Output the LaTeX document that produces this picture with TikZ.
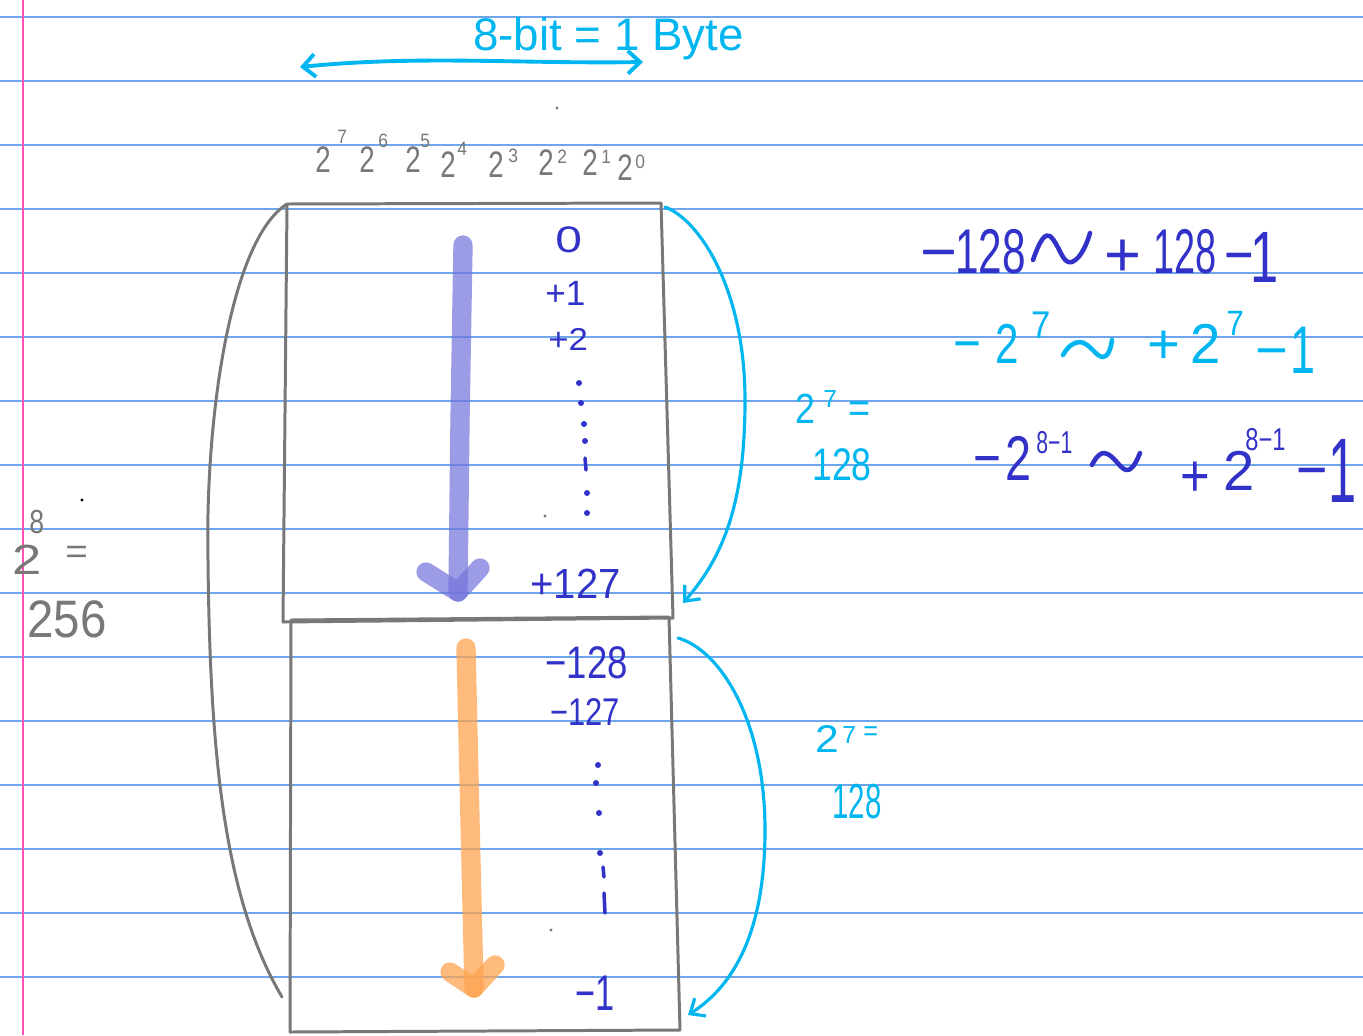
\documentclass[tikz,border=0pt]{standalone}
\usepackage{fontspec}
\setmainfont{Liberation Sans}
\usetikzlibrary{arrows.meta}
\definecolor{nbline}{RGB}{110,165,235}
\definecolor{margin}{RGB}{255,80,180}
\definecolor{boxgray}{RGB}{120,120,120}
\definecolor{cyanink}{RGB}{0,182,240}
\definecolor{blueink}{RGB}{50,50,200}
\definecolor{purplearrow}{RGB}{115,115,220}
\definecolor{orangearrow}{RGB}{255,165,80}
\tikzset{
  boxline/.style={draw=boxgray,line width=1.7pt,line join=round},
  cyanline/.style={draw=cyanink,line width=1.8pt,line cap=round},
  bluepen/.style={draw=blueink,line width=2.6pt,line cap=round,line join=round},
  cyanpen/.style={draw=cyanink,line width=2.6pt,line cap=round,line join=round},
  bigarrowp/.style={draw=purplearrow,line width=11pt,line cap=round,line join=round,opacity=0.7},
  bigarrowo/.style={draw=orangearrow,line width=11pt,line cap=round,line join=round,opacity=0.75},
  bluetxt/.style={text=blueink,inner sep=0pt,anchor=base west},
  cyantxt/.style={text=cyanink,inner sep=0pt,anchor=base west},
  graytxt/.style={text=boxgray,inner sep=0pt,anchor=base west},
  dotmark/.style={fill=blueink,draw=none},
}
\newcommand{\gl}[4]{{\fontsize{#3}{#3}\selectfont\scalebox{#1}[#2]{#4}}}
\begin{document}
\begin{tikzpicture}[x=0.02cm,y=-0.02cm]
\useasboundingbox (0,0) rectangle (1363,1035);
\fill[white] (0,0) rectangle (1363,1035);
% notebook lines
\foreach \yy in {17,81,145,209,273,337,401,465,529,593,657,721,785,849,913,977}
  \draw[nbline,line width=0.8pt] (0,\yy) -- (1363,\yy);
\draw[margin,line width=1.2pt] (23,0) -- (23,1035);

% boxes
\coordinate (t1) at (287,204); \coordinate (t2) at (661,203);
\coordinate (t3) at (673,618); \coordinate (t4) at (283,622);
\draw[boxline] (t1) -- (t2) -- (t3) -- (t4) -- cycle;
\coordinate (b1) at (291,620); \coordinate (b2) at (669,617);
\coordinate (b3) at (680,1030); \coordinate (b4) at (290,1032);
\draw[boxline] (b1) -- (b2) -- (b3) -- (b4) -- cycle;

% left gray brace
\coordinate (lg2) at (282,997);
\draw[boxline,line cap=round] (t1) .. controls (230,240) and (205,420) .. (208,560)
   .. controls (210,760) and (225,900) .. (lg2);

% big purple arrow
\coordinate (pa1) at (463,245); \coordinate (pa2) at (458,592);
\draw[bigarrowp] (pa1) -- (460,420) -- (pa2);
\draw[bigarrowp] (426,572) -- (pa2) -- (480,568);
% big orange arrow
\coordinate (oa1) at (466,648); \coordinate (oa2) at (474,988);
\draw[bigarrowo] (oa1) -- (470,820) -- (oa2);
\draw[bigarrowo] (450,972) -- (oa2) -- (495,965);

% top double arrow
\coordinate (da1) at (300,67); \coordinate (da2) at (643,62);
\draw[cyanline,line width=2.2pt,{Straight Barb[length=7pt,width=13pt]}-{Straight Barb[length=7pt,width=13pt]}]
  (da1) .. controls (420,55) and (520,64) .. (da2);
\node[cyantxt] (byte) at (473,50) {\gl{1}{1}{26pt}{8-bit = 1 Byte}};

% powers of two
\foreach \bx/\by/\sx/\sy/\pp in {315/172/337/143/7,359/172/378/147/6,405/172/420/147/5,440/177/457/155/4,488/177/508/162/3,538/175/557/163/2,582/175/601/163/1,617/180/635/168/0}{
  \node[graytxt] at (\bx,\by) {\gl{0.75}{1}{21pt}{2}};
  \node[graytxt] at (\sx,\sy) {\gl{0.9}{1}{11pt}{\pp}};
}

% cyan braces
\coordinate (cb1) at (665,207); \coordinate (cb2) at (683,603);
\draw[cyanline,-{Straight Barb[length=7pt,width=12pt]}] (cb1) .. controls (700,220) and (745,290) .. (745,400)
   .. controls (745,500) and (725,555) .. (cb2);
\coordinate (cc1) at (678,638); \coordinate (cc2) at (688,1015);
\draw[cyanline,-{Straight Barb[length=7pt,width=12pt]}] (cc1) .. controls (720,650) and (765,720) .. (765,830)
   .. controls (765,930) and (735,985) .. (cc2);

% labels in top box
\node[bluetxt] (v0) at (555,252) {\gl{1.3}{1}{21pt}{0}};
\node[bluetxt] (vp1) at (545,305) {\gl{1}{1}{20pt}{+1}};
\node[bluetxt] (vp2) at (548,350) {\gl{1.1}{1}{18pt}{+2}};
\foreach \dx/\dy in {579/383,581/403,584/424,585/441,587/493,587/513}
  \fill[dotmark] (\dx,\dy) circle (3);
\draw[blueink,line width=2pt,line cap=round] (585,458) -- (586,470);
\node[bluetxt] (vp127) at (530,598) {\gl{0.95}{1}{24pt}{+127}};

% labels in bottom box
\node[bluetxt] (vm128) at (545,678) {\gl{0.8}{1}{26pt}{−128}};
\node[bluetxt] (vm127) at (550,725) {\gl{0.8}{1}{22pt}{−127}};
\foreach \dx/\dy in {598/765,596/783,599/813,600/853}
  \fill[dotmark] (\dx,\dy) circle (3);
\draw[blueink,line width=2pt,line cap=round] (603,867) -- (604,877);
\draw[blueink,line width=2pt,line cap=round] (604,893) -- (605,913);
\node[bluetxt] (vm1) at (575,1010) {\gl{0.75}{1.1}{26pt}{−1}};

% small stray dots
\fill[boxgray] (557,108) circle (1.6);
\fill[boxgray] (545,516) circle (1.6);
\fill[boxgray] (551,930) circle (1.6);
\fill[black] (82,500) circle (1.6);

% side counts (cyan)
\node[cyantxt] (c1a) at (795,423) {\gl{0.85}{1}{24pt}{2}};
\node[cyantxt] (c1s) at (823,407) {\gl{1}{1}{14pt}{7}};
\node[cyantxt] (c1e) at (848,422) {\gl{0.9}{1}{24pt}{=}};
\node[cyantxt] (c1b) at (812,480) {\gl{0.78}{1}{26pt}{128}};
\node[cyantxt] (c2a) at (815,752) {\gl{1.1}{1}{22pt}{2}};
\node[cyantxt] (c2s) at (842,743) {\gl{1}{1}{14pt}{7}};
\node[cyantxt] (c2e) at (863,740) {\gl{0.9}{1}{16pt}{=}};
\node[cyantxt] (c2b) at (832,818) {\gl{0.6}{1}{28pt}{128}};
% left count (gray)
\node[graytxt] (l1a) at (12,574) {\gl{1.25}{1}{24pt}{2}};
\node[graytxt] (l1s) at (29,533) {\gl{0.8}{1}{19pt}{8}};
\node[graytxt] (l1e) at (65,563) {\gl{1.1}{1}{20pt}{=}};
\node[graytxt] (l2) at (27,637) {\gl{0.9}{1}{30pt}{256}};

% range formula 1 (blue)
\node[bluetxt] (r1a) at (920,273) {\gl{1}{1}{36pt}{−}};
\node[bluetxt] (r1b) at (955,273) {\gl{0.67}{1}{36pt}{128}};
\draw[bluepen] (1033,260) .. controls (1040,240) and (1045,233) .. (1050,236)
   .. controls (1060,245) and (1062,265) .. (1072,262) .. controls (1082,258) and (1088,240) .. (1090,233);
\node[bluetxt] (r1c) at (1104,276) {\gl{1}{1}{36pt}{+}};
\node[bluetxt] (r1d) at (1153,273) {\gl{0.6}{1}{36pt}{128}};
\node[bluetxt] (r1e) at (1224,276) {\gl{0.8}{1}{36pt}{−}};
\node[bluetxt] (r1f) at (1250,282) {\gl{0.8}{1.15}{36pt}{1}};

% range formula 2 (cyan)
\node[cyantxt] (r2a) at (953,362) {\gl{0.85}{1}{32pt}{−}};
\node[cyantxt] (r2b) at (995,363) {\gl{0.75}{1}{32pt}{2}};
\node[cyantxt] (r2c) at (1031,338) {\gl{0.9}{1}{22pt}{7}};
\draw[cyanpen] (1063,355) .. controls (1068,346) and (1074,342) .. (1080,342)
   .. controls (1090,343) and (1096,357) .. (1103,357) .. controls (1108,357) and (1111,348) .. (1112,340);
\node[cyantxt] (r2d) at (1147,363) {\gl{1}{1}{32pt}{+}};
\node[cyantxt] (r2e) at (1190,363) {\gl{0.97}{1}{32pt}{2}};
\node[cyantxt] (r2f) at (1226,335) {\gl{0.9}{1}{20pt}{7}};
\node[cyantxt] (r2g) at (1255,369) {\gl{1}{1}{32pt}{−}};
\node[cyantxt] (r2h) at (1290,373) {\gl{0.8}{1.2}{32pt}{1}};

% range formula 3 (blue)
\node[bluetxt] (r3a) at (973,478) {\gl{0.8}{1}{34pt}{−}};
\node[bluetxt] (r3b) at (1005,480) {\gl{0.74}{1}{36pt}{2}};
\node[bluetxt] (r3c) at (1036,453) {\gl{0.67}{1}{18pt}{8−1}};
\draw[bluepen] (1092,465) .. controls (1096,457) and (1100,453) .. (1104,453)
   .. controls (1114,454) and (1120,470) .. (1127,470) .. controls (1133,470) and (1137,460) .. (1140,453);
\node[bluetxt] (r3d) at (1180,496) {\gl{0.85}{1}{34pt}{+}};
\node[bluetxt] (r3e) at (1223,490) {\gl{1}{1}{32pt}{2}};
\node[bluetxt] (r3f) at (1245,450) {\gl{0.75}{1}{18pt}{8−1}};
\node[bluetxt] (r3g) at (1296,491) {\gl{0.85}{1}{36pt}{−}};
\node[bluetxt] (r3h) at (1328,502) {\gl{0.8}{1.45}{36pt}{1}};
\end{tikzpicture}
\end{document}
